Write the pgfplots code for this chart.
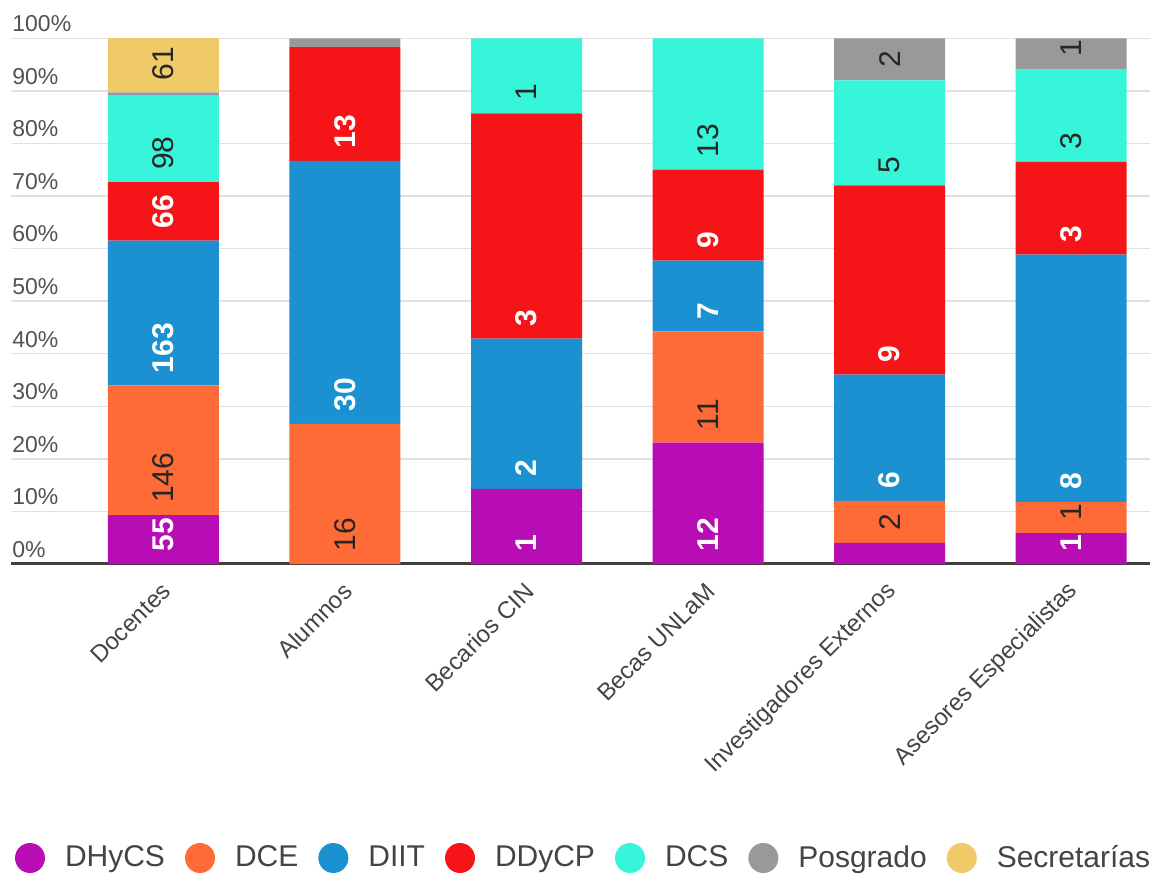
\documentclass[border=0pt]{standalone}
\usepackage{fontspec}
\setmainfont{Liberation Sans}
\usepackage{pgfplots}
\usepackage{pgfplotstable}
\pgfplotsset{compat=1.18}
\definecolor{cDHyCS}{HTML}{B80DB5}
\definecolor{cDCE}{HTML}{FF6B37}
\definecolor{cDIIT}{HTML}{1B91D1}
\definecolor{cDDyCP}{HTML}{F51519}
\definecolor{cDCS}{HTML}{36F5DA}
\definecolor{cPos}{HTML}{999999}
\definecolor{cSec}{HTML}{F0C968}
\definecolor{txt}{HTML}{444444}
\pgfplotstableread{
x t   DHyCS DCE DIIT DDyCP DCS Pos Sec
0 592 55    146 163  66    98  3   61
1 60  0     16  30   13    0   1   0
2 7   1     0   2    3     1   0   0
3 52  12    11  7    9     13  0   0
4 25  1     2   6    9     5   2   0
5 17  1     1   8    3     3   1   0
}\data
\newcommand{\series}[5]{%
  \addplot[fill=#2, draw=none,
    point meta=explicit,
    nodes near coords={\pgfmathfloatifflags{\pgfplotspointmeta}{0}{}{\pgfmathprintnumber{\pgfplotspointmeta}}},
    visualization depends on={\thisrow{#1}*50/\thisrow{t} \as \halfh},
    every node near coord/.append style={text=#3, font=\fontsize{15}{15}#5\selectfont,
      inner sep=0pt, shift={(axis direction cs:0,-\halfh)}, yshift=6pt, rotate=90, anchor=west},
  ] table[x=x, y expr=\thisrow{#1}*100/\thisrow{t},
          meta expr={\thisrow{#1}*100/\thisrow{t}>=5 ? \thisrow{#1} : 0}] {\data};
  \addlegendentry{#4}}
\begin{document}
\begin{tikzpicture}
\path[use as bounding box] (-5.5pt,-154pt) rectangle (569.5pt,282pt);
\begin{axis}[
  scale only axis, width=569.5pt, height=263pt,
  ybar stacked, bar width=55.5pt,
  xmin=-0.84, xmax=5.435, ymin=0, ymax=100.05,
  enlargelimits=false,
  /pgf/number format/assume math mode=true,
  axis line style={draw=none},
  major tick length=0pt,
  xtick={0,1,2,3,4,5},
  xticklabels={Docentes,Alumnos,Becarios CIN,Becas UNLaM,Investigadores Externos,Asesores Especialistas},
  xticklabel style={xshift=1.5pt, yshift=-11.5pt, rotate=45, anchor=east, inner sep=0pt,
     font=\fontsize{12}{12}\selectfont, text=txt},
  ytick={0,10,...,100},
  yticklabel={\pgfmathprintnumber{\tick}\%},
  yticklabel style={anchor=south west, inner sep=0pt, xshift=0.5pt, yshift=3pt,
     font=\fontsize{11.5}{12}\selectfont, text=black!68},
  ymajorgrids, grid style={draw=black!12, line width=0.75pt},
  legend columns=7, legend cell align=left,
  legend image code/.code={\fill[#1] (7.5pt,0pt) circle (7.5pt);},
  legend style={draw=none, fill=none, at={(0,0)}, anchor=west, xshift=2pt, yshift=-147pt,
     inner sep=0pt, outer sep=0pt, font=\fontsize{15}{18}\selectfont, text=txt,
     nodes={inner sep=0pt},
     /tikz/every odd column/.style={column sep=10pt},
     /tikz/every even column/.style={column sep=10pt}},
]
\series{DHyCS}{cDHyCS}{white}{DHyCS}{\bfseries}
\series{DCE}{cDCE}{black!85}{DCE}{}
\series{DIIT}{cDIIT}{white}{DIIT}{\bfseries}
\series{DDyCP}{cDDyCP}{white}{DDyCP}{\bfseries}
\series{DCS}{cDCS}{black!85}{DCS}{}
\series{Pos}{cPos}{black!85}{Posgrado}{}
\series{Sec}{cSec}{black!85}{Secretarías}{}
\draw[black!75, line width=2pt] (rel axis cs:0,0) -- (rel axis cs:1,0);
\end{axis}
\end{tikzpicture}
\end{document}
